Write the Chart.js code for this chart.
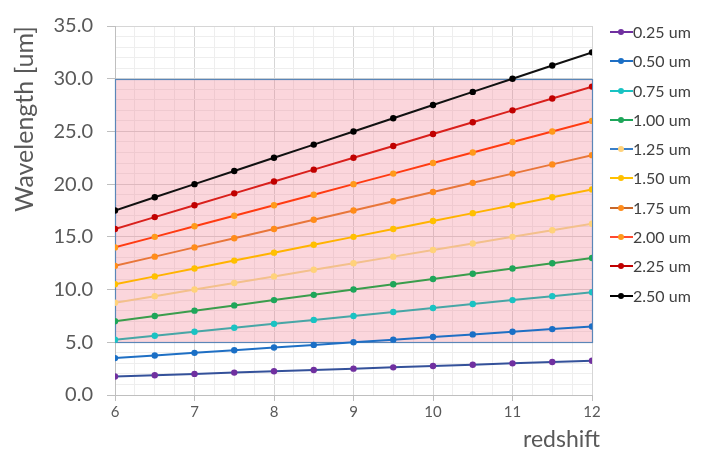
<!DOCTYPE html>
<html>
<head>
<meta charset="utf-8">
<script src="https://cdn.jsdelivr.net/npm/chart.js@4.4.1/dist/chart.umd.min.js"></script>
<style>
  html, body { margin: 0; padding: 0; background: #fff; }
  #wrap { position: relative; width: 705px; height: 454px; }
  #legend { position: absolute; left: 610px; top: 22px; font-family: Lato, "Open Sans", sans-serif; font-size: 16px; color: #404040; }
  .item { position: relative; height: 29.3px; line-height: 20px; white-space: nowrap; }
  .swatch { display: inline-block; position: relative; width: 23px; height: 20px; vertical-align: top; margin-right: 0px; }
  .swatch .ln { position: absolute; left: 0; right: 0; top: 9px; height: 2px; }
  .swatch .dot { position: absolute; left: 8px; top: 7px; width: 6px; height: 6px; border-radius: 50%; }
</style>
</head>
<body>
<div id="wrap">
  <canvas id="c" width="705" height="454"></canvas>
  <div id="legend"></div>
</div>
<script>
// ---- data ----
const redshift = [6, 6.5, 7, 7.5, 8, 8.5, 9, 9.5, 10, 10.5, 11, 11.5, 12];
const seriesNames = ["0.25 um", "0.50 um", "0.75 um", "1.00 um", "1.25 um", "1.50 um", "1.75 um", "2.00 um", "2.25 um", "2.50 um"];
const w025 = [1.75, 1.875, 2.0, 2.125, 2.25, 2.375, 2.5, 2.625, 2.75, 2.875, 3.0, 3.125, 3.25];
const w050 = [3.5, 3.75, 4.0, 4.25, 4.5, 4.75, 5.0, 5.25, 5.5, 5.75, 6.0, 6.25, 6.5];
const w075 = [5.25, 5.625, 6.0, 6.375, 6.75, 7.125, 7.5, 7.875, 8.25, 8.625, 9.0, 9.375, 9.75];
const w100 = [7.0, 7.5, 8.0, 8.5, 9.0, 9.5, 10.0, 10.5, 11.0, 11.5, 12.0, 12.5, 13.0];
const w125 = [8.75, 9.375, 10.0, 10.625, 11.25, 11.875, 12.5, 13.125, 13.75, 14.375, 15.0, 15.625, 16.25];
const w150 = [10.5, 11.25, 12.0, 12.75, 13.5, 14.25, 15.0, 15.75, 16.5, 17.25, 18.0, 18.75, 19.5];
const w175 = [12.25, 13.125, 14.0, 14.875, 15.75, 16.625, 17.5, 18.375, 19.25, 20.125, 21.0, 21.875, 22.75];
const w200 = [14.0, 15.0, 16.0, 17.0, 18.0, 19.0, 20.0, 21.0, 22.0, 23.0, 24.0, 25.0, 26.0];
const w225 = [15.75, 16.875, 18.0, 19.125, 20.25, 21.375, 22.5, 23.625, 24.75, 25.875, 27.0, 28.125, 29.25];
const w250 = [17.5, 18.75, 20.0, 21.25, 22.5, 23.75, 25.0, 26.25, 27.5, 28.75, 30.0, 31.25, 32.5];
const seriesValues = [w025, w050, w075, w100, w125, w150, w175, w200, w225, w250];
const band = [5, 30];             // shaded wavelength range
const xMajorTicks = [6, 7, 8, 9, 10, 11, 12];
const yMajorTicks = [0, 5, 10, 15, 20, 25, 30, 35];
const xTitle = "redshift";
const yTitle = "Wavelength [um]";

// ---- styles ----
const lineColors   = ["#34519a", "#1f6fc4", "#47a6a6", "#3a9d4c", "#f3c08c", "#ffb300", "#e8763a", "#ff3b12", "#d9201c", "#111111"];
const markerColors = ["#7030a0", "#1a6fc6", "#19c3c3", "#1ea65a", "#ffd27a", "#ffc000", "#ff8c1a", "#ff9a1a", "#c00000", "#000000"];
const legendLineColors = ["#7030a0", "#1f6fc4", "#19c3c3", "#1ea65a", "#3a7fc8", "#ffc000", "#c8672a", "#ff4a30", "#c00000", "#000000"];

const FONT = "Lato, 'Open Sans', sans-serif";
const TXT = "#595959";

const bandPlugin = {
  id: 'band',
  beforeDatasetsDraw(chart) {
    const {ctx} = chart;
    const xs = chart.scales.x, ys = chart.scales.y;
    const x0 = Math.round(xs.getPixelForValue(redshift[0]));
    const x1 = Math.round(xs.getPixelForValue(redshift[redshift.length - 1]));
    const y0 = Math.round(ys.getPixelForValue(band[1]));
    const y1 = Math.round(ys.getPixelForValue(band[0]));
    ctx.save();
    ctx.fillStyle = "rgba(242,120,140,0.30)";
    ctx.fillRect(x0, y0, x1 - x0, y1 - y0);
    ctx.strokeStyle = "#5a86b8";
    ctx.lineWidth = 1.2;
    ctx.strokeRect(x0 + 0.5, y0 + 0.5, x1 - x0, y1 - y0);
    ctx.restore();
  },
  afterDraw(chart) {
    const {ctx} = chart;
    const xs = chart.scales.x;
    ctx.save();
    ctx.font = "23px " + FONT;
    ctx.fillStyle = TXT;
    ctx.textAlign = 'right';
    ctx.textBaseline = 'alphabetic';
    ctx.fillText(xTitle, xs.right + 8, xs.bottom - 7);
    ctx.restore();
  }
};

const datasets = seriesValues.map((vals, i) => ({
  label: seriesNames[i],
  data: vals.map((v, j) => ({x: redshift[j], y: v})),
  showLine: true,
  borderColor: lineColors[i],
  backgroundColor: markerColors[i],
  pointBackgroundColor: markerColors[i],
  pointBorderColor: markerColors[i],
  pointRadius: 3.2,
  pointBorderWidth: 0,
  borderWidth: 2,
  tension: 0
}));

new Chart(document.getElementById('c'), {
  type: 'scatter',
  data: { datasets },
  plugins: [bandPlugin],
  options: {
    responsive: false,
    animation: false,
    events: [],
    layout: { padding: { left: 0, right: 113, top: 16, bottom: 0 } },
    plugins: { legend: { display: false }, tooltip: { enabled: false } },
    scales: {
      x: {
        type: 'linear', min: 6, max: 12,
        afterFit(s) { s.height = 59; },
        ticks: {
          stepSize: 0.25, autoSkip: false, maxRotation: 0, padding: 2,
          color: TXT, font: { family: FONT, size: 15 },
          callback: v => xMajorTicks.includes(v) ? String(v) : ''
        },
        grid: {
          color: c => xMajorTicks.includes(c.tick.value) ? '#d6d6d6' : '#eeeeee',
          tickColor: c => xMajorTicks.includes(c.tick.value) ? '#bfbfbf' : 'rgba(0,0,0,0)',
          tickLength: 6
        },
        border: { color: '#bfbfbf' },
        title: { display: false }
      },
      y: {
        min: 0, max: 35,
        afterFit(s) { s.width = 115; },
        ticks: {
          stepSize: 1, autoSkip: false, padding: 14,
          color: TXT, font: { family: FONT, size: 20 },
          callback: v => yMajorTicks.includes(v) ? v.toFixed(1) : ''
        },
        grid: {
          color: c => yMajorTicks.includes(c.tick.value) ? '#d6d6d6' : '#eeeeee',
          tickColor: c => yMajorTicks.includes(c.tick.value) ? '#bfbfbf' : 'rgba(0,0,0,0)',
          tickLength: 8
        },
        border: { color: '#bfbfbf' },
        title: { display: true, text: yTitle, align: 'end', color: TXT, font: { family: FONT, size: 25 }, padding: { top: 10, bottom: 0 } }
      }
    }
  }
});

// HTML legend
const leg = document.getElementById('legend');
seriesNames.forEach((name, i) => {
  const d = document.createElement('div');
  d.className = 'item';
  d.innerHTML = '<span class="swatch"><span class="ln" style="background:' + legendLineColors[i] + '"></span><span class="dot" style="background:' + markerColors[i] + '"></span></span>' + name;
  leg.appendChild(d);
});
</script>
</body>
</html>
